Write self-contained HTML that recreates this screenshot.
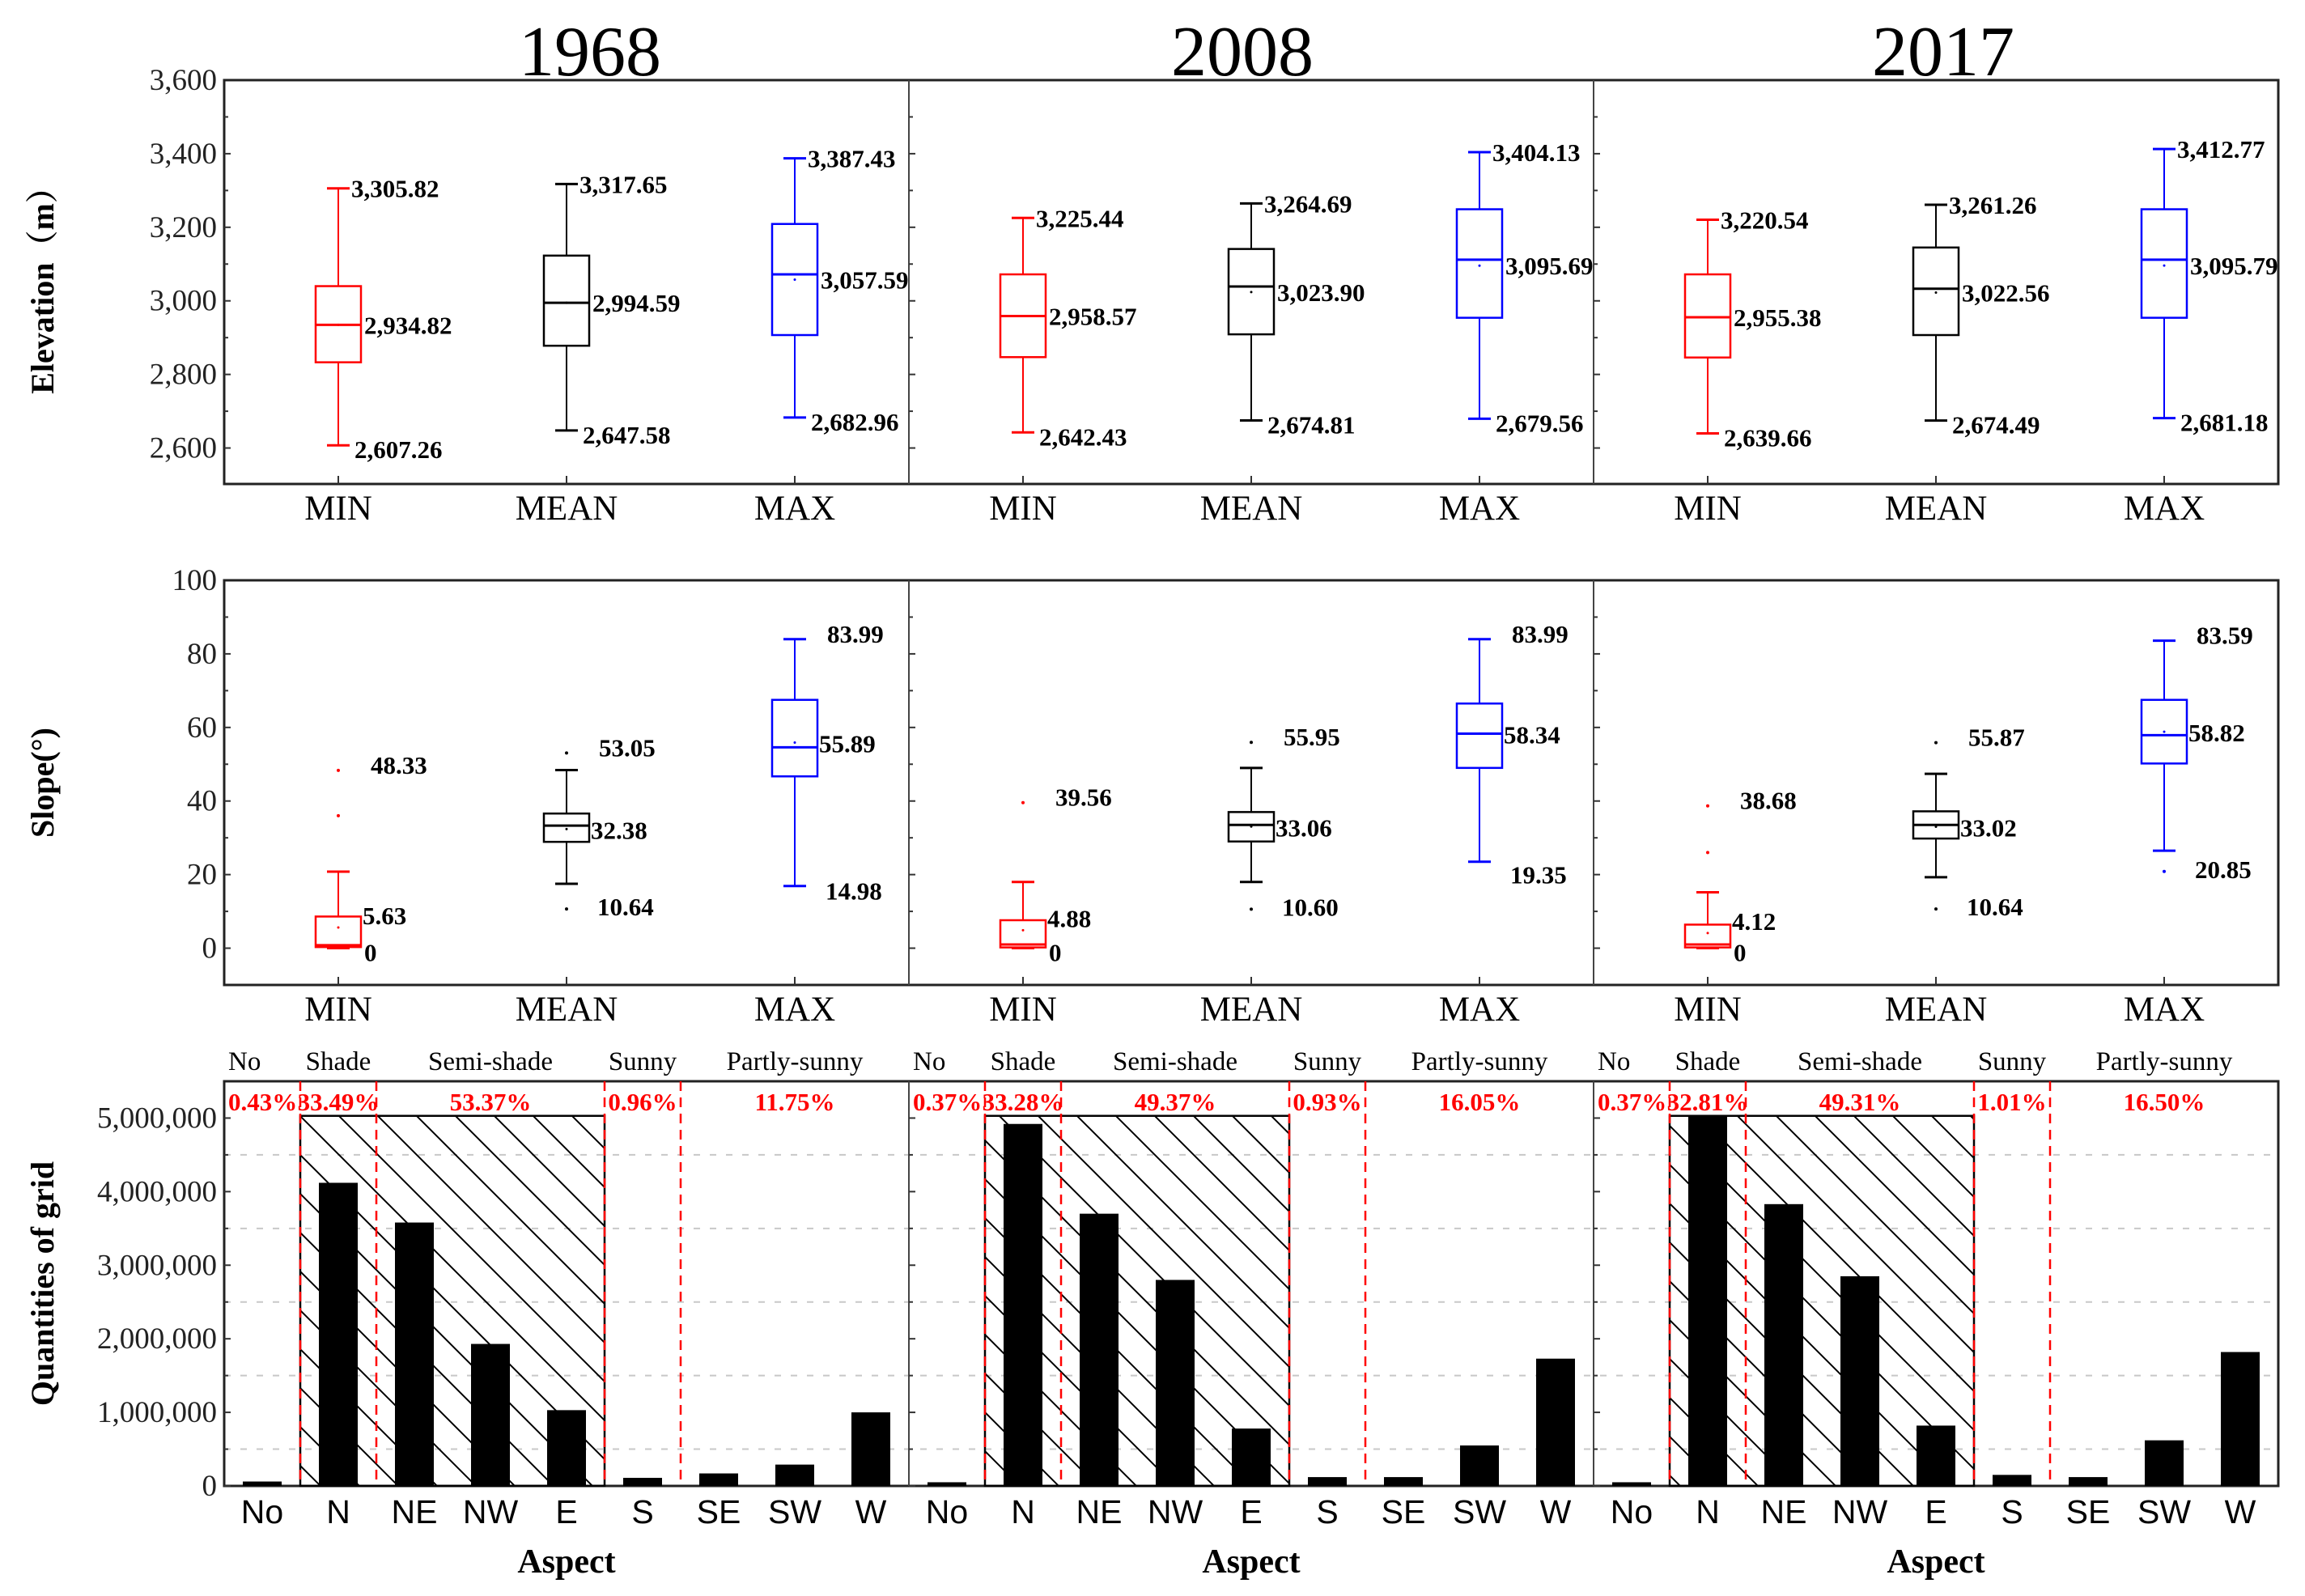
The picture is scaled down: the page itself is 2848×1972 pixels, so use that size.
<!DOCTYPE html>
<html><head><meta charset="utf-8">
<style>
html,body{margin:0;padding:0;background:#fff;}
svg{display:block;}
text{font-family:"Liberation Serif",serif;}
</style></head>
<body>
<svg id="chart" width="2848" height="1972" viewBox="0 0 2848 1972" xmlns="http://www.w3.org/2000/svg">
<defs>
<pattern id="hatch" patternUnits="userSpaceOnUse" width="48" height="48">
<line x1="0" y1="0" x2="48" y2="48" stroke="#000" stroke-width="2"/>
<line x1="-24" y1="24" x2="24" y2="72" stroke="#000" stroke-width="2"/>
<line x1="24" y1="-24" x2="72" y2="24" stroke="#000" stroke-width="2"/>
</pattern>
</defs>
</svg>
<script>
const years = ['1968','2008','2017'];
const statCats = ['MIN','MEAN','MAX'];
const statColors = ['#ff0000','#000000','#0000ff'];
// Elevation box stats [year][cat]
const elevLow = [[2607.26,2647.58,2682.96],[2642.43,2674.81,2679.56],[2639.66,2674.49,2681.18]];
const elevQ1 = [[2833,2878,2907],[2847,2909,2954],[2846,2907,2954]];
const elevMedian = [[2934.82,2994.59,3072],[2958.57,3039,3112],[2955.38,3033,3112]];
const elevQ3 = [[3040,3123,3209],[3072,3141,3249],[3072,3145,3249]];
const elevHigh = [[3305.82,3317.65,3387.43],[3225.44,3264.69,3404.13],[3220.54,3261.26,3412.77]];
const elevMidLabel = [[2934.82,2994.59,3057.59],[2958.57,3023.90,3095.69],[2955.38,3022.56,3095.79]];
const elevTicks = [2600,2800,3000,3200,3400,3600];
// Slope box stats
const slopeLow = [[0,17.5,16.9],[0,18,23.5],[0,19.3,26.5]];
const slopeQ1 = [[0.3,28.9,46.7],[0.2,29,49],[0.2,29.8,50.2]];
const slopeMedian = [[0.8,33.3,54.6],[1,33.5,58.3],[1,33.5,57.9]];
const slopeQ3 = [[8.6,36.6,67.5],[7.6,37,66.5],[6.4,37.2,67.5]];
const slopeHigh = [[20.8,48.4,83.99],[18,49,83.99],[15.2,47.4,83.59]];
const slopeMean = [[5.63,32.38,55.89],[4.88,33.06,58.34],[4.12,33.02,58.82]];
const slopeOutliers = [[[48.33,36],[53.05,10.64],[]],[[39.56],[55.95,10.60],[]],[[38.68,26],[55.87,10.64],[20.85]]];
const slopeTopLabel = [['48.33','53.05','83.99'],['39.56','55.95','83.99'],['38.68','55.87','83.59']];
const slopeTopVal = [[48.33,53.05,83.99],[39.56,55.95,83.99],[38.68,55.87,83.59]];
const slopeMidLabel = [['5.63','32.38','55.89'],['4.88','33.06','58.34'],['4.12','33.02','58.82']];
const slopeBotLabel = [['0','10.64','14.98'],['0','10.60','19.35'],['0','10.64','20.85']];
const slopeBotVal = [[0,10.64,14.98],[0,10.60,19.35],[0,10.64,20.85]];
const slopeTicks = [0,20,40,60,80,100];
// Aspect counts
const aspectCats = ['No','N','NE','NW','E','S','SE','SW','W'];
const counts1968 = [60000,4120000,3580000,1930000,1030000,110000,170000,290000,1000000];
const counts2008 = [50000,4920000,3700000,2800000,780000,120000,120000,550000,1730000];
const counts2017 = [50000,5030000,3830000,2850000,820000,150000,120000,620000,1820000];
const countTicks = [0,1000000,2000000,3000000,4000000,5000000];
const groupNames = ['No','Shade','Semi-shade','Sunny','Partly-sunny'];
const groupPct = [['0.43%','33.49%','53.37%','0.96%','11.75%'],['0.37%','33.28%','49.37%','0.93%','16.05%'],['0.37%','32.81%','49.31%','1.01%','16.50%']];
const hatchTop = 5030000;

const svg = document.getElementById('chart');
const NS = 'http://www.w3.org/2000/svg';
const panelLeft = [277,1123,1969];
const panelW = 846;
const rightEdge = 2815;
const rows = [{top:99,bot:598},{top:717,bot:1217},{top:1336,bot:1836}];
function el(tag, attrs, text){
  const e = document.createElementNS(NS, tag);
  for (const k in attrs) e.setAttribute(k, attrs[k]);
  if (text !== undefined) e.textContent = text;
  svg.appendChild(e);
  return e;
}
function yElev(v){ return 99 + (3600 - v) / 1100 * 500; }
function ySlope(v){ return 717 + (100 - v) / 110 * 500; }
function yCount(v){ return 1836 - v / 5500000 * 500; }
function xCat(p, i, n){ return panelLeft[p] + panelW * (i + 0.5) / n; }
function fmt(v){ return v.toLocaleString('en-US',{minimumFractionDigits:2,maximumFractionDigits:2}); }
function fmtInt(v){ return v.toLocaleString('en-US'); }

// Titles
const titleX = [729,1535,2401];
years.forEach((y,p)=>{
  const t = el('text',{x:titleX[p],y:93,'font-size':88,'text-anchor':'middle'},y);
  
  
});

// Bottom-row gridlines first (under everything)
for(let v=500000; v<5500000; v+=1000000){
  const g = el('line',{x1:277,y1:yCount(v),x2:rightEdge,y2:yCount(v),stroke:'#c8c8c8','stroke-width':2,'stroke-dasharray':'8 12'});
  
  
}

// Frames
rows.forEach((r,ri)=>{
  const f = el('rect',{x:277,y:r.top,width:rightEdge-277,height:r.bot-r.top,fill:'none',stroke:'#222','stroke-width':3});
  
  
  [1,2].forEach(p=>{
    const d = el('line',{x1:panelLeft[p],y1:r.top,x2:panelLeft[p],y2:r.bot,stroke:'#444','stroke-width':2});
    
    
  });
});

// Y axis labels & ticks
function yAxis(ticks, yf, labelFn, minorStep, lo, hi, nameBase){
  ticks.forEach(v=>{
    const t = el('text',{x:268,y:yf(v)+12,'font-size':37,'text-anchor':'end',fill:'#222'},labelFn(v));
    
    
  });
  for(let v=lo; v<=hi; v+=minorStep){
    panelLeft.forEach(x=>{
      const m = el('line',{x1:x,y1:yf(v),x2:x+(ticks.includes(v)?8:5),y2:yf(v),stroke:'#333','stroke-width':2});
      
      
    });
  }
}
yAxis(elevTicks, yElev, fmtInt, 100, 2600, 3500, 'elevation');
yAxis(slopeTicks, ySlope, v=>String(v), 10, 0, 90, 'slope');
yAxis(countTicks, yCount, fmtInt, 500000, 0, 5000000, 'count');

// Y axis titles
[['Elevation（m）',349,'elevation-axis-title'],['Slope(°)',967,'slope-axis-title'],['Quantities of grid',1586,'count-axis-title']].forEach(a=>{
  const t = el('text',{x:0,y:0,'font-size':40,'font-weight':'bold','text-anchor':'middle',transform:'translate(66,'+a[1]+') rotate(-90)'},a[0]);
  t.setAttribute('style','font-family:"Liberation Serif","Noto Serif CJK SC",serif');
  
  
});

// Box plots
function boxes(row, yf, low,q1,med,q3,high, nameBase){
  const r = rows[row];
  for(let p=0;p<3;p++){
    for(let c=0;c<3;c++){
      const cx = xCat(p,c,3), col = statColors[c];
      const g = document.createElementNS(NS,'g');
      
      
      svg.appendChild(g);
      const add=(tag,a)=>{const e=document.createElementNS(NS,tag);for(const k in a)e.setAttribute(k,a[k]);g.appendChild(e);return e;};
      add('line',{x1:cx,y1:yf(high[p][c]),x2:cx,y2:yf(q3[p][c]),stroke:col,'stroke-width':2});
      add('line',{x1:cx,y1:yf(q1[p][c]),x2:cx,y2:yf(low[p][c]),stroke:col,'stroke-width':2});
      add('line',{x1:cx-14,y1:yf(high[p][c]),x2:cx+14,y2:yf(high[p][c]),stroke:col,'stroke-width':3});
      add('line',{x1:cx-14,y1:yf(low[p][c]),x2:cx+14,y2:yf(low[p][c]),stroke:col,'stroke-width':3});
      add('rect',{x:cx-28,y:yf(q3[p][c]),width:56,height:Math.max(1,yf(q1[p][c])-yf(q3[p][c])),fill:'none',stroke:col,'stroke-width':2.5});
      add('line',{x1:cx-28,y1:yf(med[p][c]),x2:cx+28,y2:yf(med[p][c]),stroke:col,'stroke-width':3});
      const tk = el('line',{x1:cx,y1:r.bot,x2:cx,y2:r.bot-10,stroke:'#333','stroke-width':2});
      
      
      const lb = el('text',{x:cx,y:r.bot+44,'font-size':43,'text-anchor':'middle'},statCats[c]);
      
      
    }
  }
}
boxes(0, yElev, elevLow, elevQ1, elevMedian, elevQ3, elevHigh, 'elevation');
boxes(1, ySlope, slopeLow, slopeQ1, slopeMedian, slopeQ3, slopeHigh, 'slope');

// Elevation labels
for(let p=0;p<3;p++) for(let c=0;c<3;c++){
  const cx = xCat(p,c,3);
  [[elevHigh[p][c],cx+16,11],[elevMidLabel[p][c],cx+32,11],[elevLow[p][c],cx+20,16]].forEach(l=>{
    const t = el('text',{x:l[1],y:yElev(l[0])+l[2],'font-size':31,'font-weight':'bold'},fmt(l[0]));
    
    
  });
  const dm = el('circle',{cx:cx,cy:yElev(elevMidLabel[p][c]),r:1.5,fill:statColors[c]});
  
  
}
// Slope labels, outliers, means
for(let p=0;p<3;p++) for(let c=0;c<3;c++){
  const cx = xCat(p,c,3);
  slopeOutliers[p][c].forEach(v=>{
    const o = el('circle',{cx:cx,cy:ySlope(v),r:2,fill:statColors[c]});
    
    
  });
  const mm = el('circle',{cx:cx,cy:ySlope(slopeMean[p][c]),r:1.5,fill:statColors[c]});
  
  
  const labs = [[slopeTopLabel[p][c],ySlope(slopeTopVal[p][c])+4, cx+40],
                [slopeMidLabel[p][c],ySlope(slopeMean[p][c])+ (c===0?-4:12), cx+30],
                [slopeBotLabel[p][c],ySlope(slopeBotVal[p][c])+(c===0?16:8), c===0?cx+32:cx+38]];
  labs.forEach(l=>{
    const t = el('text',{x:l[2],y:l[1],'font-size':31,'font-weight':'bold'},l[0]);
    
    
  });
}

// Bottom row: aspect bars
const allCounts = [counts1968, counts2008, counts2017];
const step = panelW/9;
for(let p=0;p<3;p++){
  const L = panelLeft[p];
  const hb = el('rect',{x:L+step,y:yCount(hatchTop),width:step*4,height:1836-yCount(hatchTop),fill:'url(#hatch)',stroke:'#000','stroke-width':2.5});
  
  
  allCounts[p].forEach((v,i)=>{
    const cx = xCat(p,i,9);
    const b = el('rect',{x:cx-24,y:yCount(v),width:48,height:1836-yCount(v),fill:'#000'});
    
    
    const lb = el('text',{x:cx,y:1882,'font-size':41,'text-anchor':'middle',style:'font-family:"Liberation Sans",sans-serif'},aspectCats[i]);
    
    
  });
  [1,2,5,6].forEach(k=>{
    const d = el('line',{x1:L+step*k,y1:1336,x2:L+step*k,y2:1836,stroke:'#ff0000','stroke-width':2.5,'stroke-dasharray':'12 8'});
    
    
  });
  const gx = [L+5, L+step*1.5, L+step*3.5, L+step*5.5, L+step*7.5];
  const anchors = ['start','middle','middle','middle','middle'];
  groupNames.forEach((n,i)=>{
    const t = el('text',{x:gx[i],y:1322,'font-size':33,'text-anchor':anchors[i]},n);
    
    
    const pc = el('text',{x:gx[i],y:1372,'font-size':31,'font-weight':'bold',fill:'#ff0000','text-anchor':anchors[i]},groupPct[p][i]);
    
    
  });
  const ax = el('text',{x:L+panelW/2,y:1943,'font-size':42,'font-weight':'bold','text-anchor':'middle'},'Aspect');
  
  
}
</script>
</body></html>
